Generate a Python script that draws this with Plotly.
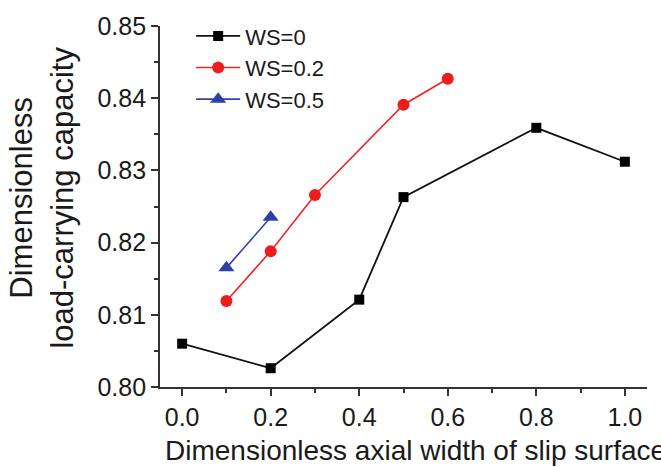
import plotly.graph_objects as go

# Dimensionless axial width of slip surface
x_ws0 = [0.0, 0.2, 0.4, 0.5, 0.8, 1.0]
y_ws0 = [0.8060, 0.8026, 0.8121, 0.8263, 0.8359, 0.8312]

x_ws02 = [0.1, 0.2, 0.3, 0.5, 0.6]
y_ws02 = [0.8119, 0.8188, 0.8266, 0.8391, 0.8427]

x_ws05 = [0.1, 0.2]
y_ws05 = [0.8165, 0.8235]

x_ticks = [0.0, 0.2, 0.4, 0.6, 0.8, 1.0]
x_ticklabels = ["0.0", "0.2", "0.4", "0.6", "0.8", "1.0"]
y_ticks = [0.80, 0.81, 0.82, 0.83, 0.84, 0.85]
y_ticklabels = ["0.80", "0.81", "0.82", "0.83", "0.84", "0.85"]

FONT = "Liberation Sans, Arial, sans-serif"
TEXT = "#1a1a1a"
AXIS = "#333333"

fig = go.Figure()
fig.add_trace(go.Scatter(
    x=x_ws0, y=y_ws0, name="WS=0", mode="lines+markers",
    line=dict(color="#111111", width=1.8),
    marker=dict(symbol="square", size=10, color="#000000"),
))
fig.add_trace(go.Scatter(
    x=x_ws02, y=y_ws02, name="WS=0.2", mode="lines+markers",
    line=dict(color="#f02424", width=1.6),
    marker=dict(symbol="circle", size=12, color="#ee1c1c"),
))
fig.add_trace(go.Scatter(
    x=x_ws05, y=y_ws05, name="WS=0.5", mode="lines+markers",
    line=dict(color="#3343a6", width=1.6),
    marker=dict(symbol="triangle-up", size=14, color="#2f3fa8"),
))

axis_common = dict(
    showgrid=False, zeroline=False, showline=True, linecolor=AXIS, linewidth=1.8,
    ticks="outside", ticklen=7, tickwidth=1.5, tickcolor=AXIS,
    tickfont=dict(family=FONT, size=25, color=TEXT),
    mirror=False,
)

fig.update_xaxes(
    range=[-0.05, 1.05], tickvals=x_ticks, ticktext=x_ticklabels,
    minor=dict(dtick=0.1, ticks="outside", ticklen=4, tickwidth=1.5, tickcolor=AXIS),
    **axis_common,
)
fig.update_yaxes(
    range=[0.80, 0.85], tickvals=y_ticks, ticktext=y_ticklabels,
    minor=dict(dtick=0.005, ticks="outside", ticklen=4, tickwidth=1.5, tickcolor=AXIS),
    **axis_common,
)

fig.add_annotation(
    text="Dimensionless<br>load-carrying capacity", textangle=-90,
    xref="paper", yref="paper", x=-0.2423, y=0.5246,
    xanchor="center", yanchor="middle", showarrow=False,
    font=dict(family=FONT, size=31, color=TEXT),
)
fig.add_annotation(
    text="Dimensionless axial width of slip surface",
    xref="paper", yref="paper", x=0.006, y=-0.175,
    xanchor="left", yanchor="middle", showarrow=False,
    font=dict(family=FONT, size=28, color=TEXT),
)

fig.update_layout(
    width=661, height=467,
    margin=dict(l=160, r=14, t=21, b=80),
    paper_bgcolor="white", plot_bgcolor="white",
    showlegend=True,
    legend=dict(
        x=0.064, y=1.03, xanchor="left", yanchor="top",
        bgcolor="rgba(0,0,0,0)", borderwidth=0,
        font=dict(family=FONT, size=22, color=TEXT),
        itemwidth=44, tracegroupgap=0,
    ),
)

fig.write_html("out.html")
